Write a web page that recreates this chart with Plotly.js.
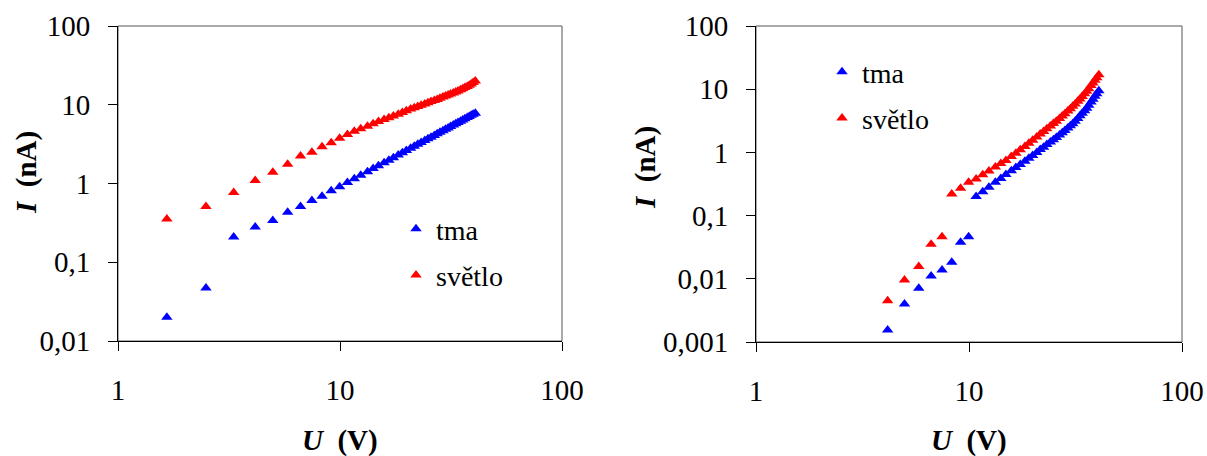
<!DOCTYPE html>
<html>
<head>
<meta charset="utf-8">
<script src="https://cdn.plot.ly/plotly-3.0.1.min.js"></script>
<style>html,body{margin:0;padding:0;background:#fff;}#chart{width:1207px;height:456px;}</style>
</head>
<body>
<div id="chart"></div>
<script>
// ---- data ----
var uLeft = [1.66, 2.49, 3.32, 4.15, 4.98, 5.81, 6.64, 7.47, 8.30, 9.13, 9.96, 10.8, 11.6, 12.4, 13.3, 14.1, 14.9, 15.8, 16.6, 17.4, 18.3, 19.1, 19.9, 20.8, 21.6, 22.4, 23.2, 24.1, 24.9, 25.7, 26.6, 27.4, 28.2, 29.1, 29.9, 30.7, 31.5, 32.4, 33.2, 34.0, 34.9, 35.7, 36.5, 37.4, 38.2, 39.0, 39.8, 40.7];
var tmaLeft = [0.020, 0.047, 0.21, 0.28, 0.34, 0.43, 0.51, 0.61, 0.69, 0.81, 0.91, 1.03, 1.15, 1.27, 1.41, 1.55, 1.68, 1.84, 1.98, 2.13, 2.30, 2.46, 2.62, 2.80, 2.97, 3.14, 3.31, 3.51, 3.69, 3.88, 4.08, 4.27, 4.46, 4.68, 4.88, 5.08, 5.29, 5.52, 5.73, 5.95, 6.19, 6.41, 6.63, 6.88, 7.10, 7.33, 7.56, 7.80];
var svetloLeft = [0.354, 0.51, 0.77, 1.09, 1.39, 1.75, 2.23, 2.49, 2.93, 3.30, 3.75, 4.20, 4.60, 4.95, 5.35, 5.75, 6.15, 6.50, 6.85, 7.20, 7.60, 8.00, 8.40, 8.80, 9.15, 9.50, 9.85, 10.2, 10.6, 11.0, 11.3, 11.7, 12.1, 12.5, 12.9, 13.3, 13.7, 14.1, 14.5, 15.0, 15.5, 16.0, 16.5, 17.1, 17.7, 18.4, 19.1, 20.0];

var uRight = [4.15, 4.98, 5.81, 6.64, 7.47, 8.30, 9.13, 9.96, 10.8, 11.6, 12.4, 13.3, 14.1, 14.9, 15.8, 16.6, 17.4, 18.3, 19.1, 19.9, 20.8, 21.6, 22.4, 23.2, 24.1, 24.9, 25.7, 26.6, 27.4, 28.2, 29.1, 29.9, 30.7, 31.5, 32.4, 33.2, 34.0, 34.9, 35.7, 36.5, 37.4, 38.2, 39.0, 39.8, 40.7];
var tmaRight = [0.00155, 0.0040, 0.0071, 0.0111, 0.0138, 0.0182, 0.0378, 0.0464, 0.200, 0.239, 0.282, 0.336, 0.388, 0.446, 0.514, 0.577, 0.644, 0.725, 0.805, 0.895, 1.00, 1.11, 1.21, 1.33, 1.46, 1.59, 1.72, 1.88, 2.05, 2.22, 2.43, 2.63, 2.83, 3.10, 3.45, 3.79, 4.15, 4.58, 4.99, 5.57, 6.28, 6.96, 7.70, 8.51, 9.49];
var svetloRight = [0.0045, 0.0096, 0.0156, 0.0352, 0.0464, 0.22, 0.27, 0.336, 0.380, 0.442, 0.508, 0.589, 0.665, 0.746, 0.861, 0.973, 1.10, 1.24, 1.39, 1.56, 1.76, 1.95, 2.15, 2.36, 2.62, 2.86, 3.12, 3.43, 3.75, 4.10, 4.52, 4.92, 5.37, 5.85, 6.43, 7.00, 7.66, 8.47, 9.31, 10.2, 11.4, 12.5, 13.8, 15.2, 16.9];

var seriesNames = ['tma', 'světlo'];
var xTickVals = [1, 10, 100];
var xTickText = ['1', '10', '100'];
var yTickValsLeft = [0.01, 0.1, 1, 10, 100];
var yTickTextLeft = ['0,01', '0,1', '1', '10', '100'];
var yTickValsRight = [0.001, 0.01, 0.1, 1, 10, 100];
var yTickTextRight = ['0,001', '0,01', '0,1', '1', '10', '100'];
var xTitle = '<b><i>U</i>\u00A0\u00A0(V)</b>';
var yTitle = '<b><i>I</i>\u00A0\u00A0(nA)</b>';

// ---- styling ----
var W = 1207, H = 456;
var FONT = 'Liberation Serif';
var BLUE = '#0000FF', RED = '#FF0000';
function mk(color) { return {symbol: 'triangle-up', size: 10, color: color, line: {width: 0}}; }

var traces = [
  {x: uLeft, y: tmaLeft, name: seriesNames[0], type: 'scatter', mode: 'markers', marker: mk(BLUE), xaxis: 'x', yaxis: 'y', legend: 'legend', legendgroup: 'a'},
  {x: uLeft, y: svetloLeft, name: seriesNames[1], type: 'scatter', mode: 'markers', marker: mk(RED), xaxis: 'x', yaxis: 'y', legend: 'legend', legendgroup: 'b'},
  {x: uRight, y: tmaRight, name: seriesNames[0], type: 'scatter', mode: 'markers', marker: mk(BLUE), xaxis: 'x2', yaxis: 'y2', legend: 'legend2', legendgroup: 'c'},
  {x: uRight, y: svetloRight, name: seriesNames[1], type: 'scatter', mode: 'markers', marker: mk(RED), xaxis: 'x2', yaxis: 'y2', legend: 'legend2', legendgroup: 'd'}
];

function xa(domain, anchor) {
  return {type: 'log', range: [0, 2], domain: domain, anchor: anchor,
    tickmode: 'array', tickvals: xTickVals, ticktext: xTickText,
    ticks: 'outside', ticklen: 9, tickwidth: 1, tickcolor: '#000',
    showline: true, linecolor: '#000', linewidth: 1, showgrid: false, zeroline: false,
    ticklabelstandoff: 14,
    tickfont: {family: FONT, size: 29, color: '#000'}};
}
function ya(domain, anchor, rng, vals, text) {
  return {type: 'log', range: rng, domain: domain, anchor: anchor,
    tickmode: 'array', tickvals: vals, ticktext: text,
    ticks: 'outside', ticklen: 9, tickwidth: 1, tickcolor: '#000',
    showline: true, linecolor: '#000', linewidth: 1, showgrid: false, zeroline: false,
    ticklabelstandoff: 12,
    tickfont: {family: FONT, size: 29, color: '#000'}};
}

var legFont = {family: FONT, size: 28, color: '#000'};
var layout = {
  width: W, height: H,
  margin: {l: 0, r: 0, t: 0, b: 0},
  font: {family: FONT, color: '#000'},
  paper_bgcolor: '#fff', plot_bgcolor: '#fff',
  showlegend: true,
  xaxis: xa([118 / W, 562 / W], 'y'),
  yaxis: ya([(H - 341) / H, (H - 26) / H], 'x', [-2, 2], yTickValsLeft, yTickTextLeft),
  xaxis2: xa([756 / W, 1182 / W], 'y2'),
  yaxis2: ya([(H - 342) / H, (H - 26) / H], 'x2', [-3, 2], yTickValsRight, yTickTextRight),
  legend: {x: 396 / W, y: 1 - 204 / H, xanchor: 'left', yanchor: 'top', bgcolor: 'rgba(0,0,0,0)',
    font: legFont, traceorder: 'grouped', tracegroupgap: 7, itemwidth: 30},
  legend2: {x: 822 / W, y: 1 - 47 / H, xanchor: 'left', yanchor: 'top', bgcolor: 'rgba(0,0,0,0)',
    font: legFont, traceorder: 'grouped', tracegroupgap: 7, itemwidth: 30},
  shapes: [
    {type: 'rect', xref: 'x domain', yref: 'y domain', x0: 0, x1: 1, y0: 0, y1: 1, layer: 'below', line: {color: '#555', width: 1}},
    {type: 'rect', xref: 'x2 domain', yref: 'y2 domain', x0: 0, x1: 1, y0: 0, y1: 1, layer: 'below', line: {color: '#555', width: 1}}
  ],
  annotations: [
    {text: xTitle, xref: 'paper', yref: 'paper', x: 340 / W, y: 1 - 440 / H, xanchor: 'center', yanchor: 'middle', showarrow: false, font: {family: FONT, size: 29, color: '#000'}},
    {text: xTitle, xref: 'paper', yref: 'paper', x: 969 / W, y: 1 - 440 / H, xanchor: 'center', yanchor: 'middle', showarrow: false, font: {family: FONT, size: 29, color: '#000'}},
    {text: yTitle, xref: 'paper', yref: 'paper', x: 26 / W, y: 1 - 173 / H, xanchor: 'center', yanchor: 'middle', textangle: -90, showarrow: false, font: {family: FONT, size: 29, color: '#000'}},
    {text: yTitle, xref: 'paper', yref: 'paper', x: 645 / W, y: 1 - 168 / H, xanchor: 'center', yanchor: 'middle', textangle: -90, showarrow: false, font: {family: FONT, size: 29, color: '#000'}}
  ]
};

Plotly.newPlot('chart', traces, layout, {staticPlot: true, displayModeBar: false});
</script>
</body>
</html>
